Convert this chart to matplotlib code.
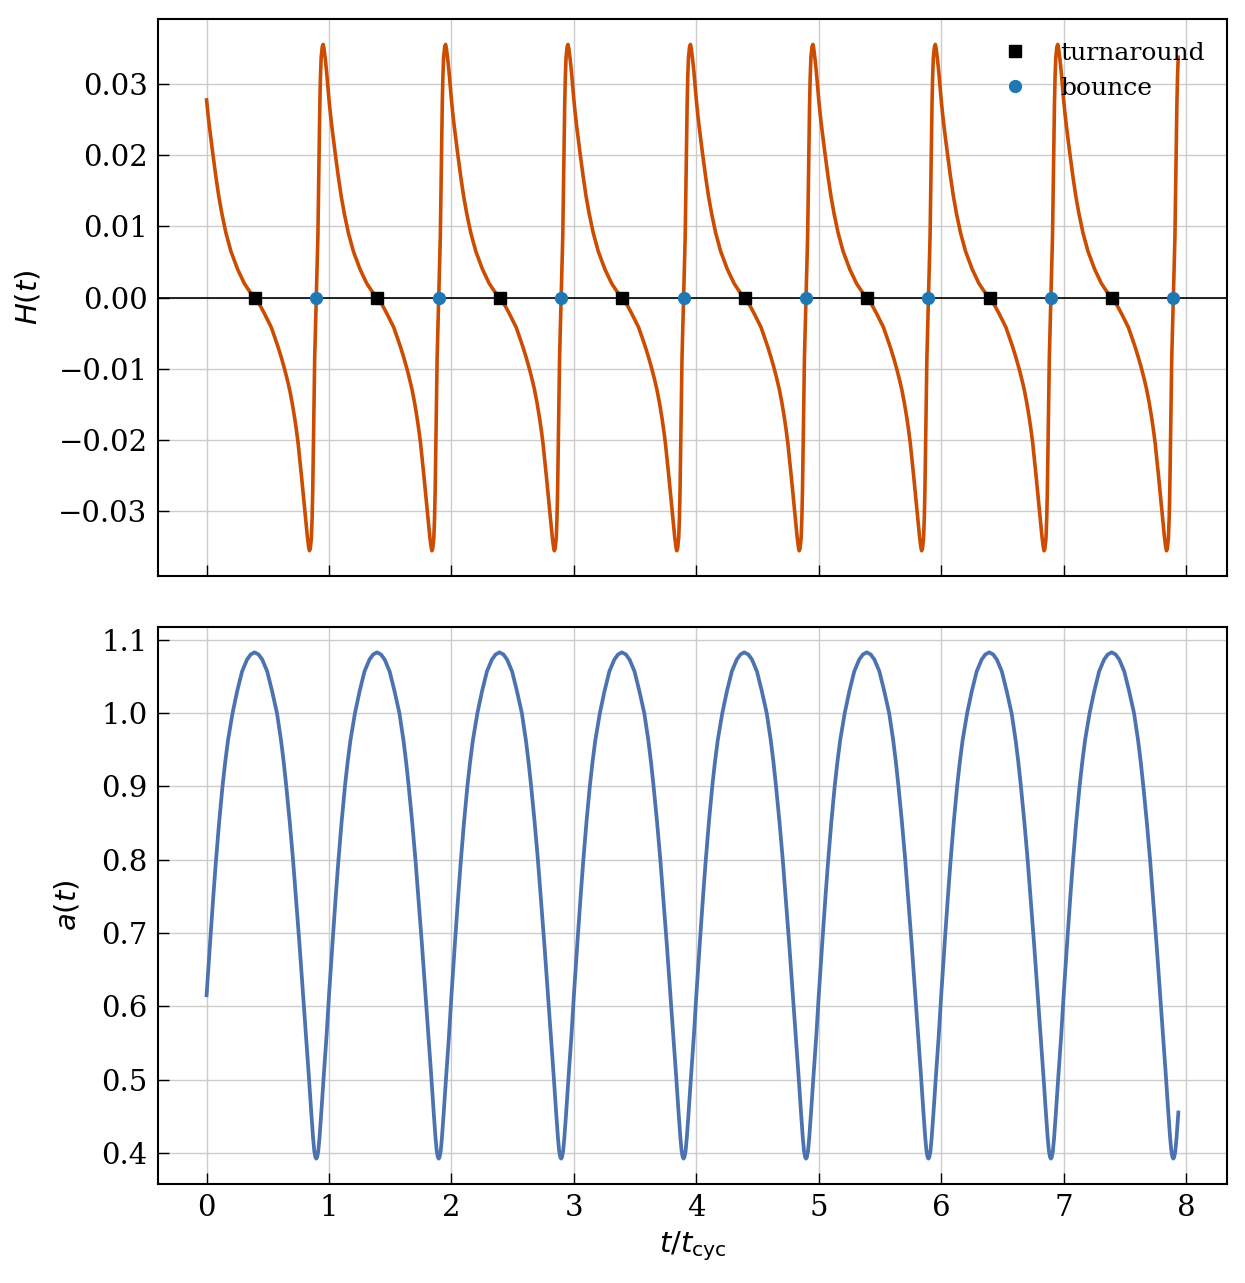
import numpy as np
import matplotlib
matplotlib.use("Agg")
import matplotlib.pyplot as plt

# ---------------- data ----------------
# One period of the scale factor a(t), phase in units of t_cyc
a_phase = [0.000, 0.030, 0.055, 0.075, 0.102, 0.130, 0.152, 0.175, 0.212, 0.250,
           0.290, 0.330, 0.360, 0.392, 0.425, 0.455, 0.495, 0.535, 0.575, 0.608,
           0.630, 0.651, 0.680, 0.706, 0.730, 0.760, 0.790, 0.812, 0.835, 0.855,
           0.870, 0.880, 0.889, 0.896, 0.903, 0.912, 0.922, 0.937, 0.957, 0.980]
a_values = [0.615, 0.690, 0.750, 0.795, 0.850, 0.900, 0.933, 0.963, 1.000, 1.030,
            1.057, 1.073, 1.080, 1.083, 1.080, 1.073, 1.057, 1.030, 1.000, 0.963,
            0.933, 0.900, 0.850, 0.800, 0.748, 0.682, 0.612, 0.560, 0.505, 0.455,
            0.420, 0.402, 0.394, 0.392, 0.394, 0.402, 0.420, 0.455, 0.505, 0.560]

# One period of the Hubble rate H(t)
H_phase = [0.000, 0.011, 0.022, 0.035, 0.049, 0.062, 0.076, 0.100, 0.125, 0.158,
           0.199, 0.253, 0.308, 0.350, 0.395, 0.440, 0.474, 0.529, 0.583, 0.610,
           0.638, 0.660, 0.679, 0.700, 0.720, 0.735, 0.747, 0.760, 0.774, 0.788,
           0.801, 0.812, 0.823, 0.833, 0.840, 0.847, 0.856, 0.862, 0.867, 0.875,
           0.883, 0.896, 0.909, 0.917, 0.925, 0.930, 0.936, 0.945, 0.952, 0.959,
           0.969, 0.980, 0.991]
H_values = [0.0278, 0.0259, 0.0242, 0.0224, 0.0205, 0.0188, 0.0170, 0.0142, 0.0118, 0.0091,
            0.0065, 0.0040, 0.0020, 0.0009, 0.0000, -0.0012, -0.0023, -0.0042, -0.0069, -0.0084,
            -0.0101, -0.0116, -0.0130, -0.0149, -0.0170, -0.0188, -0.0204, -0.0225, -0.0249, -0.0274,
            -0.0298, -0.0318, -0.0336, -0.0350, -0.0356, -0.0353, -0.0338, -0.0310, -0.0272, -0.0180,
            -0.0085, 0.0000, 0.0085, 0.0180, 0.0272, 0.0310, 0.0338, 0.0353, 0.0356, 0.0350,
            0.0336, 0.0318, 0.0296]

n_cycles = 8
t_end = 7.94

turnaround_t = [0.395, 1.395, 2.395, 3.395, 4.395, 5.395, 6.395, 7.395]
bounce_t = [0.896, 1.896, 2.896, 3.896, 4.896, 5.896, 6.896, 7.896]

x_ticks = [0, 1, 2, 3, 4, 5, 6, 7, 8]
H_ticks = [-0.03, -0.02, -0.01, 0.00, 0.01, 0.02, 0.03]
a_ticks = [0.4, 0.5, 0.6, 0.7, 0.8, 0.9, 1.0, 1.1]

# ---------------- build the time series ----------------
def periodic(phase, values):
    t = np.concatenate([k + np.asarray(phase) for k in range(n_cycles)])
    v = np.tile(np.asarray(values), n_cycles)
    m = t <= t_end + 1e-9
    return t[m], v[m]

t_a, a_t = periodic(a_phase, a_values)
t_H, H_t = periodic(H_phase, H_values)

# ---------------- style ----------------
plt.rcParams["font.family"] = ["DejaVu Serif"]
plt.rcParams["mathtext.fontset"] = "dejavusans"
plt.rcParams["font.size"] = 21

H_color = "#cc4c02"
a_color = "#4c72b0"
bounce_color = "#1f77b4"

fig = plt.figure(figsize=(12.45, 12.83), dpi=100)
ax1 = fig.add_axes([0.1269, 0.5510, 0.8586, 0.4341])
ax2 = fig.add_axes([0.1269, 0.0772, 0.8586, 0.4341], sharex=ax1)

for ax in (ax1, ax2):
    ax.grid(True, color="#cccccc", linewidth=1.0)
    ax.set_axisbelow(True)
    for s in ax.spines.values():
        s.set_linewidth(1.5)
    ax.tick_params(direction="in", length=8, width=1.0, pad=7.5,
                   labelsize=21, top=False, right=False)

# top panel
ax1.axhline(0, color="black", linewidth=1.2, zorder=2)
ax1.plot(t_H, H_t, color=H_color, linewidth=2.6, zorder=3)
ax1.plot(turnaround_t, np.zeros(len(turnaround_t)), "s", color="black",
         markersize=9, linestyle="none", label="turnaround", zorder=4)
ax1.plot(bounce_t, np.zeros(len(bounce_t)), "o", color=bounce_color,
         markersize=8.5, linestyle="none", label="bounce", zorder=4)
ax1.set_yticks(H_ticks)
ax1.set_ylabel(r"$H(t)$", fontsize=21)
ax1.yaxis.set_label_coords(-0.108, 0.5)
ax1.tick_params(labelbottom=False)
ax1.legend(loc="upper right", frameon=False, fontsize=18)

# bottom panel
ax2.plot(t_a, a_t, color=a_color, linewidth=2.7, zorder=3)
ax2.set_yticks(a_ticks)
ax2.set_xticks(x_ticks)
ax2.set_ylabel(r"$a(t)$", fontsize=21)
ax2.yaxis.set_label_coords(-0.072, 0.5)
ax2.set_xlabel(r"$t/t_{\rm cyc}$", fontsize=21, labelpad=5)

fig.savefig("out.png", dpi=100)
